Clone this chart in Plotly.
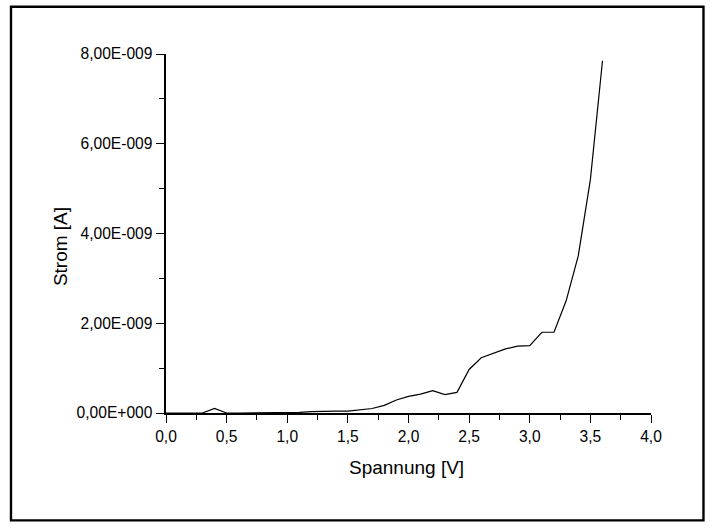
import plotly.graph_objects as go

# Data
spannung = [0.0, 0.1, 0.2, 0.3, 0.4, 0.5, 0.6, 0.7, 0.8, 0.9,
            1.0, 1.1, 1.2, 1.3, 1.4, 1.5, 1.6, 1.7, 1.8, 1.9,
            2.0, 2.1, 2.2, 2.3, 2.4, 2.5, 2.6, 2.7, 2.8, 2.9,
            3.0, 3.1, 3.2, 3.3, 3.4, 3.5, 3.6]
strom_nA = [0.0, 0.0, 0.0, 0.0, 0.1, 0.0, 0.0, 0.0, 0.005, 0.01,
            0.015, 0.015, 0.03, 0.04, 0.04, 0.04, 0.07, 0.1, 0.17, 0.29,
            0.37, 0.42, 0.5, 0.41, 0.46, 0.97, 1.23, 1.33, 1.43, 1.49,
            1.5, 1.8, 1.8, 2.5, 3.5, 5.2, 7.85]
strom = [v * 1e-9 for v in strom_nA]

x_tickvals = [0.0, 0.5, 1.0, 1.5, 2.0, 2.5, 3.0, 3.5, 4.0]
x_ticktext = ["0,0", "0,5", "1,0", "1,5", "2,0", "2,5", "3,0", "3,5", "4,0"]
y_tickvals = [0.0, 2e-9, 4e-9, 6e-9, 8e-9]
y_ticktext = ["0,00E+000", "2,00E-009", "4,00E-009", "6,00E-009", "8,00E-009"]

FONT = "Arial, 'Liberation Sans', sans-serif"
W, H = 715, 532
ML, MR, MT, MB = 165.7, 64, 53.8, 119.3
PW, PH = W - ML - MR, H - MT - MB


def px_to_paper_x(px):
    return (px - ML) / PW


def px_to_paper_y(py):
    return (H - MB - py) / PH


fig = go.Figure()
fig.add_trace(go.Scatter(x=spannung, y=strom, mode="lines",
                         line=dict(color="black", width=1.2),
                         showlegend=False, hoverinfo="skip"))

axis_common = dict(showgrid=False, zeroline=False, showline=True,
                   linecolor="black", linewidth=1.5, mirror=False,
                   ticks="outside", ticklen=8.7, tickwidth=1.4, tickcolor="black",
                   tickfont=dict(family=FONT, size=15.6, color="black"))

fig.update_xaxes(range=[0, 4], tickvals=x_tickvals, ticktext=x_ticktext,
                 minor=dict(dtick=0.25, ticks="outside", ticklen=4.8,
                            tickwidth=1.4, tickcolor="black"),
                 **axis_common)
fig.update_yaxes(range=[0, 8e-9], tickvals=y_tickvals, ticktext=y_ticktext,
                 minor=dict(dtick=1e-9, ticks="outside", ticklen=4.8,
                            tickwidth=1.4, tickcolor="black"),
                 **axis_common)

fig.add_annotation(text="Spannung [V]", xref="paper", yref="paper",
                   x=px_to_paper_x(406.8), y=px_to_paper_y(467),
                   xanchor="center", yanchor="middle", showarrow=False,
                   font=dict(family=FONT, size=19, color="black"))
fig.add_annotation(text="Strom [A]", xref="paper", yref="paper",
                   x=px_to_paper_x(59.5), y=px_to_paper_y(246),
                   xanchor="center", yanchor="middle", showarrow=False,
                   textangle=-90,
                   font=dict(family=FONT, size=19, color="black"))

# outer frame
fig.add_shape(type="rect", xref="paper", yref="paper",
              x0=px_to_paper_x(10.6), x1=px_to_paper_x(703.5),
              y0=px_to_paper_y(520), y1=px_to_paper_y(6.5),
              line=dict(color="black", width=2.4), fillcolor="rgba(0,0,0,0)",
              layer="above")

fig.update_layout(width=W, height=H,
                  margin=dict(l=ML, r=MR, t=MT, b=MB, autoexpand=False),
                  paper_bgcolor="white", plot_bgcolor="white",
                  font=dict(family=FONT, color="black"))

fig.write_html("out.html", config={"displayModeBar": False})
